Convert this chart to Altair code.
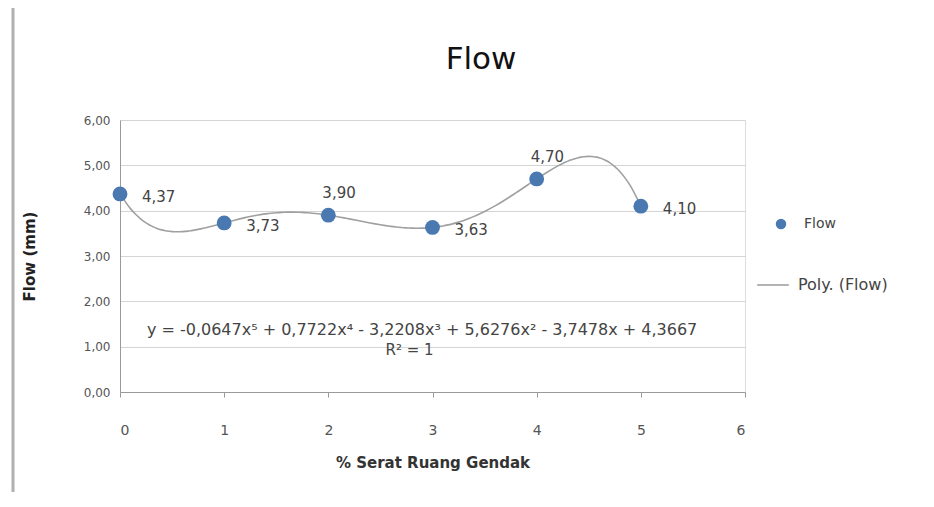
import altair as alt
import pandas as pd

# Data
x_vals = [0, 1, 2, 3, 4, 5]
flow_vals = [4.37, 3.73, 3.90, 3.63, 4.70, 4.10]
label_texts = ["4,37", "3,73", "3,90", "3,63", "4,70", "4,10"]
above_idx = [2, 4]  # labels Excel put above their point
y_ticks = [0, 1, 2, 3, 4, 5, 6]
x_ticks = [0, 1, 2, 3, 4, 5, 6]
title_text = "Flow"
equation = "y = -0,0647x\u2075 + 0,7722x\u2074 - 3,2208x\u00b3 + 5,6276x\u00b2 - 3,7478x + 4,3667"
r2_text = "R\u00b2 = 1"

df = pd.DataFrame({
    "x": x_vals,
    "y": flow_vals,
    "label": label_texts,
    "above": [i in above_idx for i in range(len(x_vals))],
    "series": ["Flow"] * len(x_vals),
})

FONT = "DejaVu Sans"
POINT_COLOR = "#4a78b0"
LINE_COLOR = "#a0a0a0"

xscale = alt.Scale(domain=[0, 6], nice=False)
yscale = alt.Scale(domain=[0, 6], nice=False)

base = alt.Chart(df)

trend = base.transform_regression(
    "x", "y", method="poly", order=5
).transform_calculate(s="'Poly. (Flow)'").mark_line(
    strokeWidth=1.6, interpolate="monotone"
).encode(
    x=alt.X("x:Q", scale=xscale,
            axis=alt.Axis(values=x_ticks, format="d", title="% Serat Ruang Gendak", grid=False,
                          labelPadding=26, tickSize=5, tickColor="#9a9a9a",
                          domainColor="#9a9a9a", labelFont=FONT, labelFontSize=14,
                          labelColor="#555555", titleFont=FONT, titleFontSize=15,
                          titleFontWeight="bold", titleColor="#333333", titlePadding=18)),
    y=alt.Y("y:Q", scale=yscale,
            axis=alt.Axis(values=y_ticks, title="Flow (mm)", grid=True, gridColor="#d4d4d4",
                          labelExpr="replace(format(datum.value, '.2f'), '.', ',')",
                          tickSize=0, domainColor="#9a9a9a", labelPadding=10,
                          labelFont=FONT, labelFontSize=12, labelColor="#555555",
                          titleFont=FONT, titleFontSize=15, titleFontWeight="bold",
                          titleColor="#222222", titlePadding=46)),
    stroke=alt.Stroke("s:N", scale=alt.Scale(domain=["Poly. (Flow)"], range=[LINE_COLOR]),
                      legend=alt.Legend(title=None, orient="none", legendX=636, legendY=148,
                                        symbolType="stroke", symbolSize=1000,
                                        symbolStrokeWidth=1.6, labelFont=FONT,
                                        labelFontSize=16, labelOffset=8, labelColor="#444444")),
)

points = base.mark_point(filled=True, opacity=1, size=220).encode(
    x=alt.X("x:Q", scale=xscale),
    y=alt.Y("y:Q", scale=yscale),
    color=alt.Color("series:N", scale=alt.Scale(domain=["Flow"], range=[POINT_COLOR]),
                    legend=alt.Legend(title=None, orient="none", legendX=654, legendY=97,
                                      symbolType="circle", symbolSize=110,
                                      labelFont=FONT, labelFontSize=14, labelOffset=16,
                                      labelColor="#444444")),
)

labels_right = base.transform_filter("!datum.above").mark_text(
    align="left", dx=22, dy=3, font=FONT, fontSize=15, color="#444444"
).encode(x=alt.X("x:Q", scale=xscale), y=alt.Y("y:Q", scale=yscale), text="label:N")

labels_above = base.transform_filter("datum.above").mark_text(
    align="left", dx=-6, dy=-22, font=FONT, fontSize=15, color="#444444"
).encode(x=alt.X("x:Q", scale=xscale), y=alt.Y("y:Q", scale=yscale), text="label:N")

eq = alt.Chart(pd.DataFrame({"t": [equation]})).mark_text(
    font=FONT, fontSize=16, color="#444444"
).encode(x=alt.datum(2.9), y=alt.datum(1.37), text="t:N")

r2 = alt.Chart(pd.DataFrame({"t": [r2_text]})).mark_text(
    font=FONT, fontSize=15, color="#444444"
).encode(x=alt.datum(2.78), y=alt.datum(0.93), text="t:N")

title = alt.Chart(pd.DataFrame({"t": [title_text]})).mark_text(
    font=FONT, fontSize=31, fontWeight=500, color="#111111", baseline="middle"
).encode(x=alt.value(361), y=alt.value(-60), text="t:N")

border = alt.Chart(pd.DataFrame({"a": [0]})).mark_rule(color="#b0b0b0", strokeWidth=3).encode(
    x=alt.value(-107), y=alt.value(-112), y2=alt.value(372)
)

chart = alt.layer(border, title, trend, points, labels_right, labels_above, eq, r2).properties(
    width=625, height=272,
    autosize="none",
    padding={"left": 112, "top": 112, "right": 181, "bottom": 107},
).configure_view(stroke=None).configure(background="white")

chart.save("out.html", embed_options={"renderer": "svg", "actions": False})
